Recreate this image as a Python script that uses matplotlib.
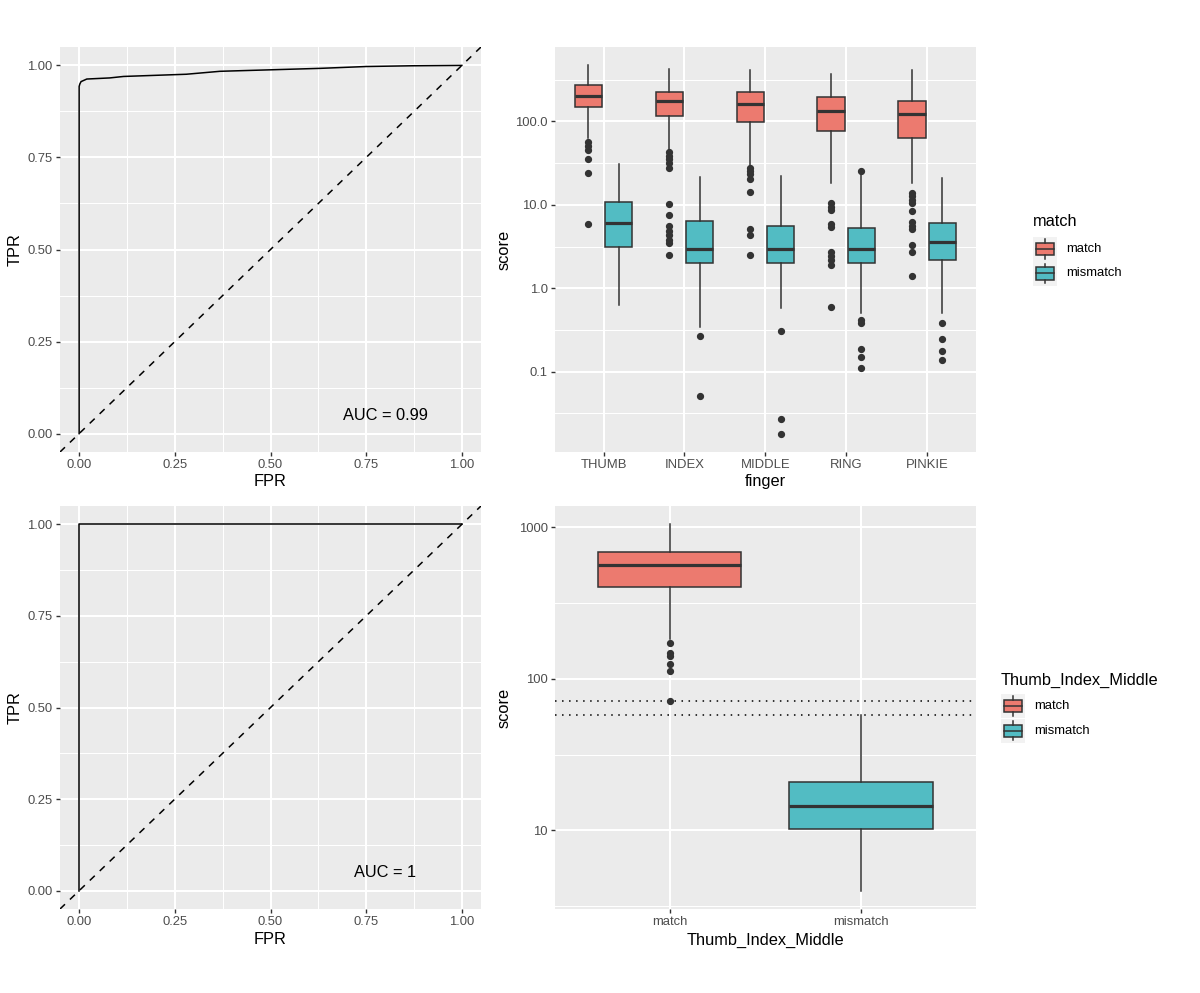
import matplotlib
matplotlib.use("Agg")
import matplotlib.pyplot as plt
from matplotlib.patches import Rectangle
from matplotlib.ticker import FixedLocator, NullFormatter
import numpy as np

plt.rcParams['font.family'] = ['Liberation Sans', 'DejaVu Sans']

W, H = 1200, 993

# ---------------- data ----------------
roc1_fpr = [0.0, 0.0, 0.002, 0.005, 0.02, 0.08, 0.116, 0.28, 0.368, 0.63, 0.75, 0.87, 1.0]
roc1_tpr = [0.0, 0.943, 0.950, 0.956, 0.963, 0.966, 0.970, 0.976, 0.984, 0.992, 0.997, 0.999, 1.0]
roc1_label = "AUC = 0.99"

roc2_fpr = [0.0, 0.0, 1.0]
roc2_tpr = [0.0, 1.0, 1.0]
roc2_label = "AUC = 1"

auc_x, auc_y = 0.8, 0.05

fingers = ["THUMB", "INDEX", "MIDDLE", "RING", "PINKIE"]
groups = ["match", "mismatch"]

match_whislo = [64, 46, 30, 18.5, 18.5]
match_q1 = [150, 116, 98, 76, 64]
match_med = [205, 175, 162, 134, 123]
match_q3 = [271, 225, 225, 195, 177]
match_whishi = [471, 422, 410, 374, 418]
match_fliers = [
    [56, 51, 46, 35, 24, 5.9],
    [43, 39, 35, 32, 28, 10.2, 7.5, 5.5, 4.8, 4.3, 3.8, 3.5, 2.5],
    [28, 25.5, 23.3, 20.3, 14.4, 5.2, 4.35, 2.5],
    [10.5, 9.5, 8.6, 5.9, 5.4, 2.7, 2.43, 2.2, 1.88, 0.59],
    [14.0, 12.6, 11.5, 10.4, 8.5, 6.3, 5.5, 5.1, 3.3, 2.7, 1.41],
]

mismatch_whislo = [0.63, 0.344, 0.58, 0.51, 0.50]
mismatch_q1 = [3.15, 2.0, 2.02, 2.0, 2.15]
mismatch_med = [6.1, 2.95, 2.98, 2.98, 3.63]
mismatch_q3 = [10.7, 6.4, 5.6, 5.25, 6.1]
mismatch_whishi = [31, 21.5, 22.2, 22.5, 21.0]
mismatch_fliers = [
    [],
    [0.264, 0.0515],
    [0.308, 0.0273, 0.018],
    [25.5, 0.42, 0.385, 0.186, 0.150, 0.11],
    [0.385, 0.247, 0.174, 0.136],
]

combo_groups = ["match", "mismatch"]
combo_whislo = [183, 4.0]
combo_q1 = [403, 10.2]
combo_med = [560, 14.4]
combo_q3 = [689, 21.0]
combo_whishi = [1046, 57.4]
combo_fliers = [[172.5, 147, 142.5, 125.6, 113, 71], []]

fill_colors = ["#EC7A6F", "#52BCC3"]

# ---------------- style ----------------
PANEL_BG = "#EBEBEB"
DARK = "#333333"
TICK_TXT = "#4D4D4D"
TICK_FS = 9.4
TITLE_FS = 11.8

fig = plt.figure(figsize=(W / 100, H / 100), dpi=100)
fig.patch.set_facecolor("white")


def px(x0, y0, x1, y1):
    return [x0 / W, 1 - y1 / H, (x1 - x0) / W, (y1 - y0) / H]


def style_axes(ax):
    ax.set_facecolor(PANEL_BG)
    for s in ax.spines.values():
        s.set_visible(False)
    ax.set_axisbelow(True)
    ax.tick_params(which="major", length=4 * 0.72, width=1.0, color=DARK,
                   labelcolor=TICK_TXT, labelsize=TICK_FS, pad=2.4)
    ax.tick_params(which="minor", length=0)
    ax.grid(which="major", color="white", linewidth=1.5)
    ax.grid(which="minor", color="white", linewidth=0.75)


def ftext(x, y, s, **kw):
    fig.text(x / W, 1 - y / H, s, **kw)


# ---------------- ROC panels ----------------
def roc_panel(rect, fpr, tpr, label):
    ax = fig.add_axes(px(*rect))
    style_axes(ax)
    ax.set_xlim(-0.05, 1.05)
    ax.set_ylim(-0.05, 1.05)
    ticks = [0.0, 0.25, 0.5, 0.75, 1.0]
    ax.xaxis.set_major_locator(FixedLocator(ticks))
    ax.yaxis.set_major_locator(FixedLocator(ticks))
    ax.set_xticklabels(["0.00", "0.25", "0.50", "0.75", "1.00"])
    ax.set_yticklabels(["0.00", "0.25", "0.50", "0.75", "1.00"])
    minors = [0.125, 0.375, 0.625, 0.875]
    ax.xaxis.set_minor_locator(FixedLocator(minors))
    ax.yaxis.set_minor_locator(FixedLocator(minors))
    ax.xaxis.set_minor_formatter(NullFormatter())
    ax.yaxis.set_minor_formatter(NullFormatter())
    ax.plot(fpr, tpr, color="black", linewidth=1.1, zorder=3)
    ax.plot([-0.05, 1.05], [-0.05, 1.05], color="black", linewidth=1.1,
            linestyle=(0, (4.5, 4.5)), zorder=3)
    ax.text(auc_x, auc_y, label, ha="center", va="center",
            fontsize=TITLE_FS, color="black")
    return ax


roc_panel((60, 47, 481, 452), roc1_fpr, roc1_tpr, roc1_label)
roc_panel((60, 506, 481, 909), roc2_fpr, roc2_tpr, roc2_label)

ftext(15, 249.5, "TPR", rotation=90, ha="center", va="center", fontsize=TITLE_FS)
ftext(15, 707.5, "TPR", rotation=90, ha="center", va="center", fontsize=TITLE_FS)
ftext(270.5, 481.5, "FPR", ha="center", va="center", fontsize=TITLE_FS)
ftext(270.5, 940, "FPR", ha="center", va="center", fontsize=TITLE_FS)


# ---------------- box helpers ----------------
def draw_box(ax, pos, width, lo, q1, med, q3, hi, fl, color):
    stats = [dict(whislo=lo, q1=q1, med=med, q3=q3, whishi=hi, fliers=fl)]
    ax.bxp(stats, positions=[pos], widths=width, patch_artist=True,
           showcaps=False, manage_ticks=False,
           boxprops=dict(facecolor=color, edgecolor=DARK, linewidth=1.1),
           medianprops=dict(color=DARK, linewidth=2.3),
           whiskerprops=dict(color=DARK, linewidth=1.1),
           flierprops=dict(marker="o", markerfacecolor=DARK,
                           markeredgecolor=DARK, markersize=4.2,
                           linestyle="none"),
           zorder=3)


def log_minor_grid(ax, lo_exp, hi_exp):
    ax.yaxis.set_minor_locator(FixedLocator([10 ** (k + 0.5) for k in range(lo_exp, hi_exp)]))
    ax.yaxis.set_minor_formatter(NullFormatter())


# ---------------- top-right: by finger ----------------
ax3 = fig.add_axes(px(555, 47, 975.7, 452))
style_axes(ax3)
ax3.set_yscale("log")
xpos = np.arange(1, len(fingers) + 1)
dodge = 0.1875
bw = 0.3375
for i, x in enumerate(xpos):
    draw_box(ax3, x - dodge, bw, match_whislo[i], match_q1[i], match_med[i],
             match_q3[i], match_whishi[i], match_fliers[i], fill_colors[0])
    draw_box(ax3, x + dodge, bw, mismatch_whislo[i], mismatch_q1[i], mismatch_med[i],
             mismatch_q3[i], mismatch_whishi[i], mismatch_fliers[i], fill_colors[1])
all_vals = (match_whislo + match_whishi + mismatch_whislo + mismatch_whishi
            + sum(match_fliers, []) + sum(mismatch_fliers, []))
lmin, lmax = np.log10(min(all_vals)), np.log10(max(all_vals))
pad = 0.05 * (lmax - lmin)
ax3.set_ylim(10 ** (lmin - pad), 10 ** (lmax + pad))
ax3.set_xlim(0.4, len(fingers) + 0.6)
ax3.xaxis.set_major_locator(FixedLocator(list(xpos)))
ax3.set_xticklabels(fingers)
ax3.yaxis.set_major_locator(FixedLocator([0.1, 1, 10, 100]))
ax3.set_yticklabels(["0.1", "1.0", "10.0", "100.0"])
log_minor_grid(ax3, -2, 3)
ax3.xaxis.set_minor_locator(FixedLocator([]))

ftext(504, 249.5, "score", rotation=90, ha="center", va="center", fontsize=TITLE_FS)
ftext(765.3, 481.5, "finger", ha="center", va="center", fontsize=TITLE_FS)

# ---------------- bottom-right: combined ----------------
ax4 = fig.add_axes(px(555, 506, 975.7, 909))
style_axes(ax4)
ax4.set_yscale("log")
cpos = np.arange(1, len(combo_groups) + 1)
for i, x in enumerate(cpos):
    draw_box(ax4, x, 0.75, combo_whislo[i], combo_q1[i], combo_med[i],
             combo_q3[i], combo_whishi[i], combo_fliers[i], fill_colors[i])
cvals = combo_whislo + combo_whishi + sum(combo_fliers, [])
lmin, lmax = np.log10(min(cvals)), np.log10(max(cvals))
pad = 0.05 * (lmax - lmin)
ax4.set_ylim(10 ** (lmin - pad), 10 ** (lmax + pad))
ax4.set_xlim(0.4, len(combo_groups) + 0.6)
ax4.xaxis.set_major_locator(FixedLocator(list(cpos)))
ax4.set_xticklabels(combo_groups)
ax4.yaxis.set_major_locator(FixedLocator([10, 100, 1000]))
ax4.set_yticklabels(["10", "100", "1000"])
log_minor_grid(ax4, 0, 3)
ax4.xaxis.set_minor_locator(FixedLocator([]))
thr_match = min(combo_fliers[0] + [combo_whislo[0]])
thr_mismatch = max(combo_fliers[1] + [combo_whishi[1]])
for t in (thr_match, thr_mismatch):
    ax4.axhline(t, color="black", linewidth=1.1, linestyle=(0, (1, 3.6)), zorder=2)

ftext(504, 707.5, "score", rotation=90, ha="center", va="center", fontsize=TITLE_FS)
ftext(765.3, 940, "Thumb_Index_Middle", ha="center", va="center", fontsize=TITLE_FS)


# ---------------- legends ----------------
def legend_key(x0, y0, size, color):
    kax = fig.add_axes(px(x0, y0, x0 + size, y0 + size))
    kax.set_xlim(0, 1)
    kax.set_ylim(0, 1)
    kax.axis("off")
    kax.add_patch(Rectangle((0, 0), 1, 1, facecolor="#F2F2F2", edgecolor="none"))
    kax.add_patch(Rectangle((0.125, 0.25), 0.75, 0.5, facecolor=color,
                            edgecolor=DARK, linewidth=1.1))
    kax.plot([0.5, 0.5], [0.1, 0.25], color=DARK, linewidth=1.1)
    kax.plot([0.5, 0.5], [0.75, 0.9], color=DARK, linewidth=1.1)
    kax.plot([0.125, 0.875], [0.5, 0.5], color=DARK, linewidth=1.1)


def legend(x0, y_title, y_first, title):
    ftext(x0, y_title, title, ha="left", va="center", fontsize=TITLE_FS)
    for j, g in enumerate(groups):
        yk = y_first + j * 24.5
        legend_key(x0, yk, 24, fill_colors[j])
        ftext(x0 + 33, yk + 12, g, ha="left", va="center", fontsize=TICK_FS)


legend(1033, 221, 237, "match")
legend(1000.7, 680, 694, "Thumb_Index_Middle")

fig.savefig("out.png", dpi=100, facecolor="white")
